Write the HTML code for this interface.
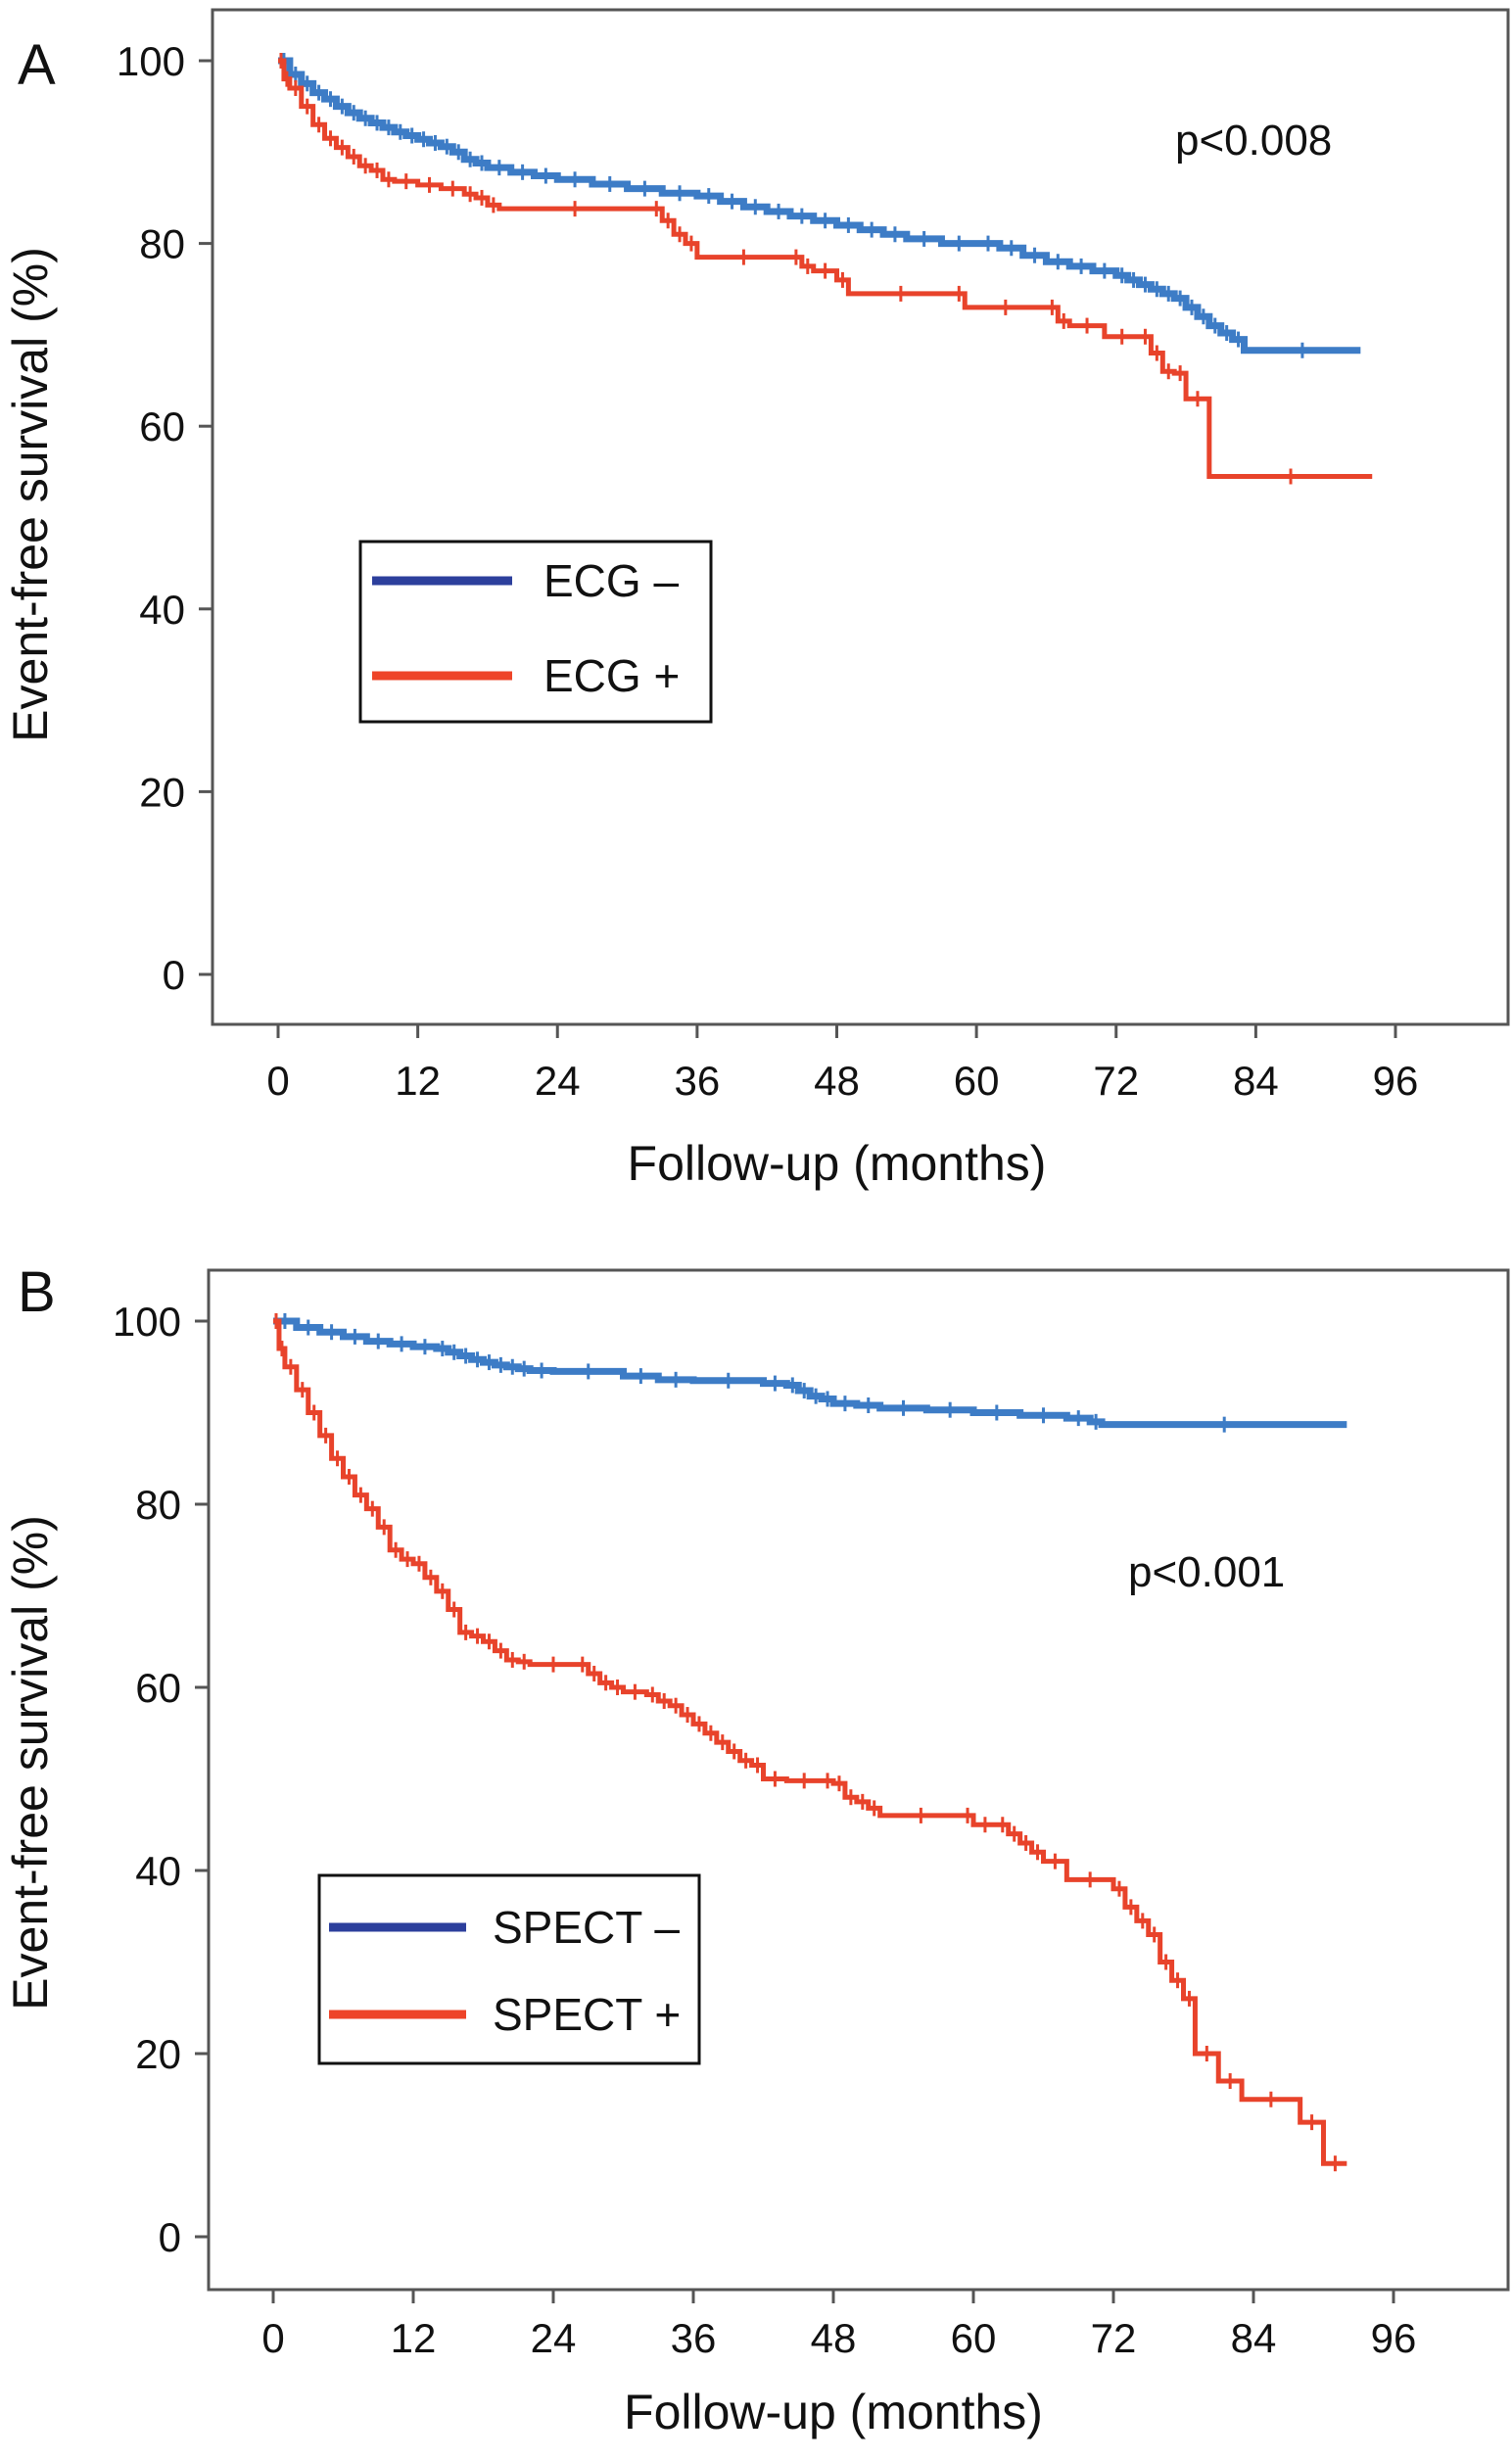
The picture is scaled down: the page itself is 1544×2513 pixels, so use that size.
<!DOCTYPE html>
<html><head><meta charset="utf-8"><style>
html,body{margin:0;padding:0;background:#fff;}
svg{display:block;font-family:"Liberation Sans",sans-serif;}
</style></head><body>
<svg id="fig" width="1544" height="2513" viewBox="0 0 1544 2513"></svg>
<script>
// Panel A data
const ecgNegT=[0,1,2,3,4,5,6,7,8,9,10,11,12,13,14,15,16,17,18,20,22,24,27,30,33,36,38,40,42,44,46,48,50,52,54,57,60,62,64,66,68,70,72,73,74,75,76,77,78,79,80,81,82,83,93];
const ecgNegS=[100,98.5,97.5,96.5,95.8,95,94.3,93.7,93.2,92.7,92.2,91.8,91.4,91,90.6,90,89.2,88.8,88.3,87.8,87.4,87,86.5,86,85.5,85.2,84.6,84,83.5,83,82.5,82,81.5,81,80.5,80,80,79.5,78.7,78,77.5,77,76.5,76,75.5,75,74.5,74,73,72,71,70.2,69.5,68.3,68.3];
const ecgPosT=[0,0.5,1,2,3,4,5,6,7,8,9,10,12,14,16,17,18,19,32,33,34,35,36,44,45,46,48,49,58,59,66,67,68,71,74,75,76,77,78,80,94];
const ecgPosS=[100,98,97,95,93,91.5,90.5,89.5,88.5,88,87,86.8,86.4,86,85.4,85,84.2,83.8,83.8,82.5,81,80,78.5,78.5,77.5,77,76,74.5,74.5,73,73,71.5,71,69.8,69.8,68,66,65.8,63,54.5,54.5];
// Panel B data
const spNegT=[0,2,4,6,8,10,12,14,15,16,17,18,19,20,21,22,24,30,33,36,42,44,45,46,47,48,50,52,56,60,64,68,70,71,92];
const spNegS=[100,99.3,98.8,98.3,97.8,97.5,97.2,97,96.6,96.2,95.8,95.5,95.2,95,94.8,94.6,94.5,94,93.6,93.5,93.2,93,92.4,91.8,91.5,91,90.8,90.5,90.3,90,89.7,89.4,89,88.7,88.7];
const spPosT=[0,0.5,1,2,3,4,5,6,7,8,9,10,11,12,13,14,15,16,17,18,19,20,21,22,26,27,28,29,30,32,33,34,35,36,37,38,39,40,41,42,44,47,48,49,50,51,52,59,60,62,63,64,65,66,68,72,73,74,75,76,77,78,79,81,83,88,90,92];
const spPosS=[100,97,95,92.5,90,87.5,85,83,81,79.5,77.5,75,74,73.5,72,70.5,68.5,66,65.6,65,64,63,62.8,62.5,62.5,61.5,60.5,60,59.5,59.2,58.5,58,57,56,55,54,53,52,51.5,50,49.8,49.8,49.5,48,47.5,46.8,46,46,45,45,44,43,42,41,39,38,36,34.5,33,30,28,26,20,17,15,12.5,8,8];
const xTicks=[0,12,24,36,48,60,72,84,96];
const yTicks=[0,20,40,60,80,100];

const NS="http://www.w3.org/2000/svg";
const svg=document.getElementById('fig');
function el(tag,attrs,parent,text){const e=document.createElementNS(NS,tag);for(const k in attrs)e.setAttribute(k,attrs[k]);if(text!==undefined)e.textContent=text;(parent||svg).appendChild(e);return e;}

function panel(cfg){
  const g=el('g',{});
  
  
  const xs=v=>cfg.x0+(cfg.x96-cfg.x0)*v/96;
  const ys=v=>cfg.y0+(cfg.y100-cfg.y0)*v/100;
  const box=el('rect',{x:cfg.left,y:cfg.top,width:cfg.right-cfg.left,height:cfg.bottom-cfg.top,fill:'none',stroke:'#555',"stroke-width":3},g);
  
  
  xTicks.forEach(t=>{
    el('line',{x1:xs(t),x2:xs(t),y1:cfg.bottom,y2:cfg.bottom+14,stroke:'#555',"stroke-width":3},g);
    const tx=el('text',{x:xs(t),y:cfg.xTickY,"font-size":42,"text-anchor":"middle",fill:'#111'},g,String(t));
    
    
  });
  yTicks.forEach(t=>{
    el('line',{x1:cfg.left-14,x2:cfg.left,y1:ys(t),y2:ys(t),stroke:'#555',"stroke-width":3},g);
    const tx=el('text',{x:cfg.left-28,y:ys(t)+15,"font-size":42,"text-anchor":"end",fill:'#111'},g,String(t));
    
    
  });
  const xt=el('text',{x:(xs(0)+xs(96))/2,y:cfg.xTitleY,"font-size":50,"text-anchor":"middle",fill:'#111'},g,'Follow-up (months)');
  
  
  const yt=el('text',{x:0,y:0,"font-size":50,"text-anchor":"middle",fill:'#111',transform:`translate(48,${cfg.yTitleY}) rotate(-90)`},g,'Event-free survival (%)');
  
  
  const lab=el('text',{x:18,y:cfg.labelY,"font-size":58,fill:'#111'},g,cfg.label);
  
  
  const pv=el('text',{x:cfg.pX,y:cfg.pY,"font-size":44,fill:'#111'},g,cfg.p);
  
  
  cfg.series.forEach(s=>{
    let d=`M${xs(s.t[0])},${ys(s.s[0])}`;
    for(let i=1;i<s.t.length;i++){d+=`H${xs(s.t[i])}V${ys(s.s[i])}`;}
    const p=el('path',{d:d,fill:'none',stroke:s.color,"stroke-width":s.w,"stroke-linejoin":"miter"},g);
    
    
    for(let i=1;i<s.t.length;i++){
      const cx=xs((s.t[i-1]+s.t[i])/2), cy=ys(s.s[i-1]);
      const c=el('line',{x1:cx,x2:cx,y1:cy-8,y2:cy+8,stroke:s.color,"stroke-width":3},g);
      
      
    }
  });
  const L=cfg.legend;
  const lg=el('g',{},g);
  
  
  el('rect',{x:L.x,y:L.y,width:L.w,height:L.h,fill:'#fff',stroke:'#111',"stroke-width":3},lg);
  L.items.forEach(it=>{
    const ln=el('line',{x1:L.lx1,x2:L.lx2,y1:it.y,y2:it.y,stroke:it.color,"stroke-width":9},lg);
    
    
    const tx=el('text',{x:L.tx,y:it.y+16,"font-size":46,fill:'#111'},lg,it.text);
    
    
  });
}
const BLUE='#3d7cc6', RED='#e8432b', LBLUE='#2c3f9c', LRED='#ee4428';
panel({name:'panel-a',left:217,right:1540,top:10,bottom:1046,x0:284,x96:1425,y0:995,y100:62,
  xTickY:1118,xTitleY:1205,yTitleY:505,label:'A',labelY:86,p:'p<0.008',pX:1200,pY:158,
  series:[{name:'ecg-negative-curve',t:ecgNegT,s:ecgNegS,color:BLUE,w:7},{name:'ecg-positive-curve',t:ecgPosT,s:ecgPosS,color:RED,w:5}],
  legend:{x:368,y:553,w:358,h:184,lx1:380,lx2:523,tx:555,items:[{y:593,color:LBLUE,text:'ECG –'},{y:690,color:LRED,text:'ECG +'}]}});
panel({name:'panel-b',left:213,right:1540,top:1297,bottom:2338,x0:279,x96:1423,y0:2284,y100:1349,
  xTickY:2402,xTitleY:2480,yTitleY:1800,label:'B',labelY:1339,p:'p<0.001',pX:1152,pY:1620,
  series:[{name:'spect-negative-curve',t:spNegT,s:spNegS,color:BLUE,w:7},{name:'spect-positive-curve',t:spPosT,s:spPosS,color:RED,w:5}],
  legend:{x:326,y:1915,w:388,h:192,lx1:336,lx2:476,tx:503,items:[{y:1968,color:LBLUE,text:'SPECT –'},{y:2057,color:LRED,text:'SPECT +'}]}});
</script>
</body></html>
